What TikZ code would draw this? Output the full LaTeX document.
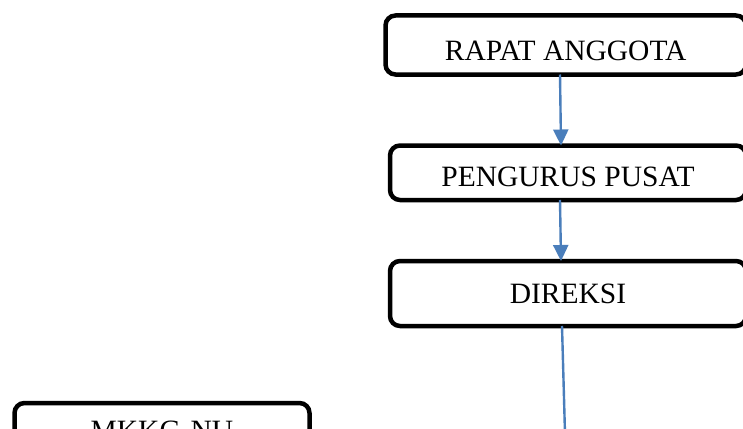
\documentclass[tikz,border=0pt]{standalone}
\usepackage{fontspec}
\setmainfont{Liberation Serif}
\usetikzlibrary{arrows.meta}
\definecolor{arrblue}{HTML}{4A7EBB}
\tikzset{
  orgbox/.style={draw=black, line width=4.5pt, rounded corners=10pt, fill=white,
    inner sep=0pt, outer sep=0pt, text height=0pt, text depth=0pt,
    font=\fontsize{29.5}{34}\selectfont},
  conn/.style={draw=arrblue, line width=2.4pt},
  arr/.style={conn, -{Triangle[length=16pt,width=15pt]}}
}
\begin{document}
\begin{tikzpicture}[x=1pt,y=-1pt]
\useasboundingbox (0,0) rectangle (743,428);
\clip (0,0) rectangle (743,428);
\fill[white] (0,0) rectangle (743,428);
\node[orgbox, minimum width=360.5pt, minimum height=59pt] (b1) at (565.75,45) {\raisebox{-16pt}{RAPAT ANGGOTA}};
\node[orgbox, minimum width=356pt, minimum height=54.5pt] (b2) at (568,172.75) {\raisebox{-13.4pt}{PENGURUS PUSAT}};
\node[orgbox, minimum width=356pt, minimum height=65pt] (b3) at (568,293.5) {\raisebox{-10.1pt}{DIREKSI}};
\node[orgbox, minimum width=295pt, minimum height=60pt] (b4) at (162,433) {\raisebox{-7.2pt}{MKKG-NU}};
\coordinate (endc) at (566,470);
\draw[arr] ([xshift=-5.75pt]b1.south) -- ([xshift=-7pt]b2.north);
\draw[arr] ([xshift=-8pt]b2.south) -- ([xshift=-7pt]b3.north);
\draw[conn] ([xshift=-6pt]b3.south) -- (endc);
\end{tikzpicture}
\end{document}
